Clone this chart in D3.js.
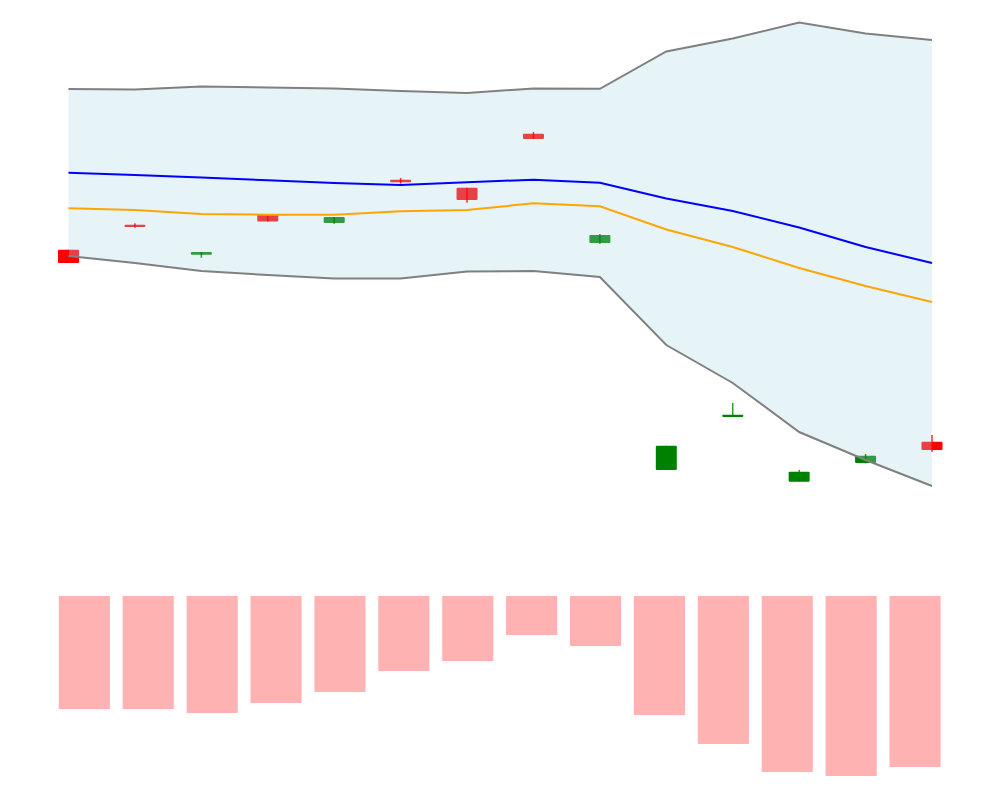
<!DOCTYPE html>
<html>
<head>
<meta charset="utf-8">
<script src="https://cdn.jsdelivr.net/npm/d3@7"></script>
<style>
  body { margin: 0; background: #fff; }
</style>
</head>
<body>
<div id="chart"></div>
<script>
// Data
const dates = ["01-02", "01-03", "01-04", "01-05", "01-08", "01-09", "01-10",
               "01-11", "01-12", "01-16", "01-17", "01-18", "01-19", "01-22"];
const open  = [105.03, 107.53, 104.53, 108.55, 107.70, 112.03, 111.23, 116.63, 105.70, 83.00, 88.30, 81.83, 83.70, 85.83];
const high  = [105.03, 107.67, 104.80, 108.55, 108.30, 112.20, 111.23, 116.80, 106.60, 85.43, 89.70, 83.00, 84.60, 86.50];
const low   = [103.70, 107.23, 104.23, 107.85, 107.63, 111.63, 109.73, 116.10, 105.63, 83.00, 88.30, 81.83, 83.67, 84.80];
const close = [103.70, 107.30, 104.80, 107.85, 108.30, 111.77, 110.00, 116.10, 106.50, 85.43, 88.53, 82.83, 84.43, 85.00];
const volume = [11300, 11300, 11700, 10700, 9600, 7500, 6500, 3900, 5000, 11900, 14800, 17600, 18000, 17100];

const upperBand = [121.10, 121.05, 121.35, 121.25, 121.15, 120.90, 120.70, 121.15, 121.12, 124.85, 126.15, 127.75, 126.65, 126.00];
const lowerBand = [104.40, 103.70, 102.90, 102.50, 102.15, 102.15, 102.85, 102.90, 102.30, 95.50, 91.70, 86.80, 84.00, 81.40];
const smaFast   = [112.73, 112.50, 112.25, 111.97, 111.70, 111.50, 111.77, 112.03, 111.73, 110.15, 108.90, 107.25, 105.30, 103.70];
const smaSlow   = [109.17, 109.00, 108.60, 108.53, 108.53, 108.87, 109.00, 109.67, 109.37, 107.05, 105.30, 103.20, 101.40, 99.80];

const width = 1000;
const height = 800;

const svg = d3.select("#chart")
    .append("svg")
    .attr("width", width)
    .attr("height", height);

// Scales
const x = d3.scalePoint()
    .domain(dates)
    .range([68.5, 932]);

const y = d3.scaleLinear()
    .domain([80, 130])
    .range([500, 0]);

const xVol = d3.scaleBand()
    .domain(dates)
    .range([52.4, 947])
    .paddingInner(0.2)
    .paddingOuter(0.1);

// volume bars hang down from the top of the lower panel
const yVol = d3.scaleLinear()
    .domain([0, 18000])
    .range([596, 776]);

const candleWidth = 21;
const colorOf = i => close[i] >= open[i] ? "green" : "red";

// Candle bodies (under the band fill)
svg.append("g")
    .selectAll("rect")
    .data(dates)
    .join("rect")
    .attr("x", d => x(d) - candleWidth / 2)
    .attr("y", (d, i) => y(Math.max(open[i], close[i])))
    .attr("width", candleWidth)
    .attr("height", (d, i) => Math.max(1.5, Math.abs(y(open[i]) - y(close[i]))))
    .attr("rx", 1)
    .attr("fill", (d, i) => colorOf(i));

// Bollinger band fill
const area = d3.area()
    .x(d => x(d))
    .y0((d, i) => y(lowerBand[i]))
    .y1((d, i) => y(upperBand[i]));

svg.append("path")
    .datum(dates)
    .attr("d", area)
    .attr("fill", "lightblue")
    .attr("opacity", 0.3);

// Wicks
svg.append("g")
    .selectAll("line")
    .data(dates)
    .join("line")
    .attr("x1", d => x(d))
    .attr("x2", d => x(d))
    .attr("y1", (d, i) => y(high[i]))
    .attr("y2", (d, i) => y(low[i]))
    .attr("stroke", (d, i) => colorOf(i))
    .attr("stroke-width", 1.5)
    .attr("opacity", 0.8);

// Lines
function drawLine(values, color) {
    const line = d3.line()
        .x(d => x(d))
        .y((d, i) => y(values[i]));
    svg.append("path")
        .datum(dates)
        .attr("d", line)
        .attr("fill", "none")
        .attr("stroke", color)
        .attr("stroke-width", 2);
}

drawLine(upperBand, "gray");
drawLine(lowerBand, "gray");
drawLine(smaFast, "blue");
drawLine(smaSlow, "orange");

// Volume bars
svg.append("g")
    .selectAll("rect")
    .data(dates)
    .join("rect")
    .attr("x", d => xVol(d))
    .attr("y", yVol(0))
    .attr("width", xVol.bandwidth())
    .attr("height", (d, i) => yVol(volume[i]) - yVol(0))
    .attr("fill", "red")
    .attr("opacity", 0.3);
</script>
</body>
</html>
